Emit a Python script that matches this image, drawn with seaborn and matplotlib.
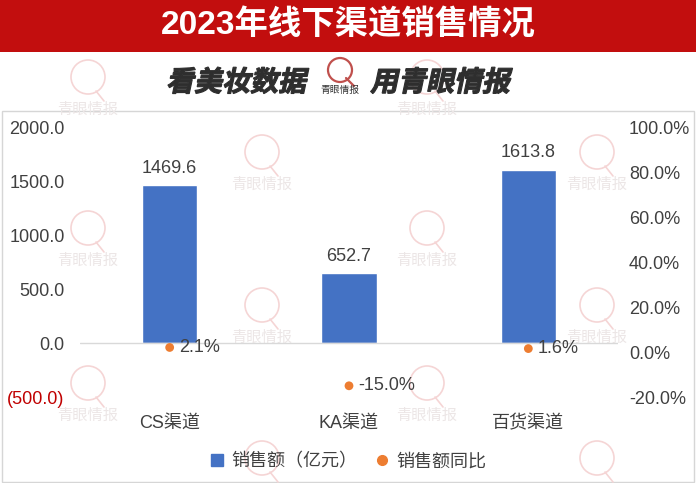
import numpy as np
import pandas as pd
import seaborn as sns
import matplotlib.pyplot as plt
from matplotlib.patches import Rectangle, Circle, PathPatch
from matplotlib.lines import Line2D
from matplotlib.textpath import TextPath
from matplotlib.font_manager import FontProperties
from matplotlib.transforms import Affine2D
from matplotlib.ticker import FuncFormatter, FixedLocator

# 数据
channels = ['CS渠道', 'KA渠道', '百货渠道']
sales = [1469.6, 652.7, 1613.8]          # 销售额（亿元）
growth = [0.021, -0.150, 0.016]          # 销售额同比

TITLE = '2023年线下渠道销售情况'
SUB_LEFT = '看美妆数据'
SUB_RIGHT = '用青眼情报'
WATERMARK = '青眼情报'

BLUE = '#4472C4'
ORANGE = '#ED7D31'
RED = '#C00000'
TXT = '#404040'

sns.set_theme(style='white')
plt.rcParams['font.family'] = ['Liberation Sans', 'Noto Sans CJK SC', 'DejaVu Sans']

W, H = 696, 483
fig = plt.figure(figsize=(W / 100, H / 100), dpi=100)

# 背景层，像素坐标 (y 向上)
bg = fig.add_axes([0, 0, 1, 1], zorder=0)
bg.set_xlim(0, W)
bg.set_ylim(0, H)
bg.axis('off')


def py(y):
    return H - y


bg.add_patch(Rectangle((0, py(52)), W, 52, color='#C20E0E', lw=0))
bg.text(W / 2, py(26), TITLE, color='white', fontsize=24, fontweight='bold',
        ha='center', va='center', family=['Liberation Sans', 'Noto Sans CJK SC'])
bg.add_patch(Rectangle((2, 1), W - 4, py(111) - 1, fill=False, ec='#D6D6D6', lw=1))

# 水印
wm_pos = [(88, 77), (427, 77), (262, 152), (597, 152), (88, 228), (427, 228),
          (262, 305), (597, 305), (88, 383), (427, 383), (262, 458), (597, 458)]
for x, y in wm_pos:
    bg.add_patch(Circle((x, py(y)), 17, fill=False, ec='#F5D5D5', lw=1.2))
    bg.plot([x + 8, x + 16], [py(y + 14), py(y + 24)], color='#F5D5D5', lw=1.2)
    if y + 32 < 470:
        bg.text(x, py(y + 32), WATERMARK, color='#ECE6E6', fontsize=11,
                ha='center', va='center', family='Noto Sans CJK SC')

# 斜体副标题
fp = FontProperties(family='Noto Sans CJK SC', weight='bold')


def slanted(text, x, y, size):
    tp = TextPath((0, 0), text, size=size, prop=fp)
    tr = Affine2D().skew_deg(12, 0).translate(x, y)
    bg.add_patch(PathPatch(tr.transform_path(tp), color='#2E2E2E', lw=0.8))


slanted(SUB_LEFT, 166, py(91), 28)
slanted(SUB_RIGHT, 370, py(91), 28)
bg.add_patch(Circle((340, py(70)), 12, fill=False, ec='#C0504D', lw=1.6))
bg.plot([346, 354], [py(78), py(86)], color='#C0504D', lw=1.6)
bg.text(340, py(90), WATERMARK, color='#333333', fontsize=7, ha='center',
        va='center', family='Noto Sans CJK SC')

# 主图
ax = fig.add_axes([80 / W, 1 - 397 / H, (618 - 80) / W, (397 - 128) / H], zorder=2)
ax.patch.set_alpha(0)
df = pd.DataFrame({'channel': channels, 'sales': sales, 'growth': growth})
sns.barplot(data=df, x='channel', y='sales', color=BLUE, width=0.31,
            saturation=1, ax=ax)
ax.axhline(0, color='#D9D9D9', lw=1, zorder=1)
ax.set_ylim(-500, 2000)
ax.set_xlim(-0.5, 2.5)
ax.yaxis.set_major_locator(FixedLocator([-500, 0, 500, 1000, 1500, 2000]))
ax.yaxis.set_major_formatter(FuncFormatter(
    lambda v, p: f'({abs(v):.1f})' if v < 0 else f'{v:.1f}'))
ax.tick_params(axis='y', length=0, pad=11, labelsize=13, labelcolor=TXT)
ax.tick_params(axis='x', length=0, pad=13, labelsize=13, labelcolor=TXT)
for lab in ax.get_yticklabels():
    if lab.get_text().startswith('('):
        lab.set_color(RED)
ax.set_xlabel('')
ax.set_ylabel('')
for s in ax.spines.values():
    s.set_visible(False)
for i, v in enumerate(sales):
    ax.annotate(f'{v:.1f}', (i, v), xytext=(0, 6), textcoords='offset points',
                ha='center', va='bottom', fontsize=13, color=TXT)

ax2 = ax.twinx()
sns.scatterplot(data=df, x='channel', y='growth', color=ORANGE, s=40,
                edgecolor='none', ax=ax2, legend=False)
ax2.set_ylim(-0.2, 1.0)
ax2.yaxis.set_major_locator(FixedLocator(np.arange(-0.2, 1.01, 0.2)))
ax2.yaxis.set_major_formatter(FuncFormatter(lambda v, p: f'{v * 100:.1f}%'))
ax2.tick_params(axis='y', length=0, pad=8, labelsize=13, labelcolor=TXT)
ax2.set_ylabel('')
for s in ax2.spines.values():
    s.set_visible(False)
for i, g in enumerate(growth):
    ax2.annotate(f'{g * 100:.1f}%', (i, g), xytext=(7, 0), textcoords='offset points',
                 ha='left', va='center', fontsize=13, color=TXT)

handles = [Line2D([], [], marker='s', ls='none', color=BLUE, markersize=8),
           Line2D([], [], marker='o', ls='none', color=ORANGE, markersize=7)]
fig.legend(handles, ['销售额（亿元）', '销售额同比'], loc='center',
           bbox_to_anchor=(0.5, 1 - 462 / H), ncol=2, frameon=False,
           fontsize=13, labelcolor=TXT, handlelength=0.8, handletextpad=0.4,
           columnspacing=1.0)

fig.savefig('out.png', dpi=100)
